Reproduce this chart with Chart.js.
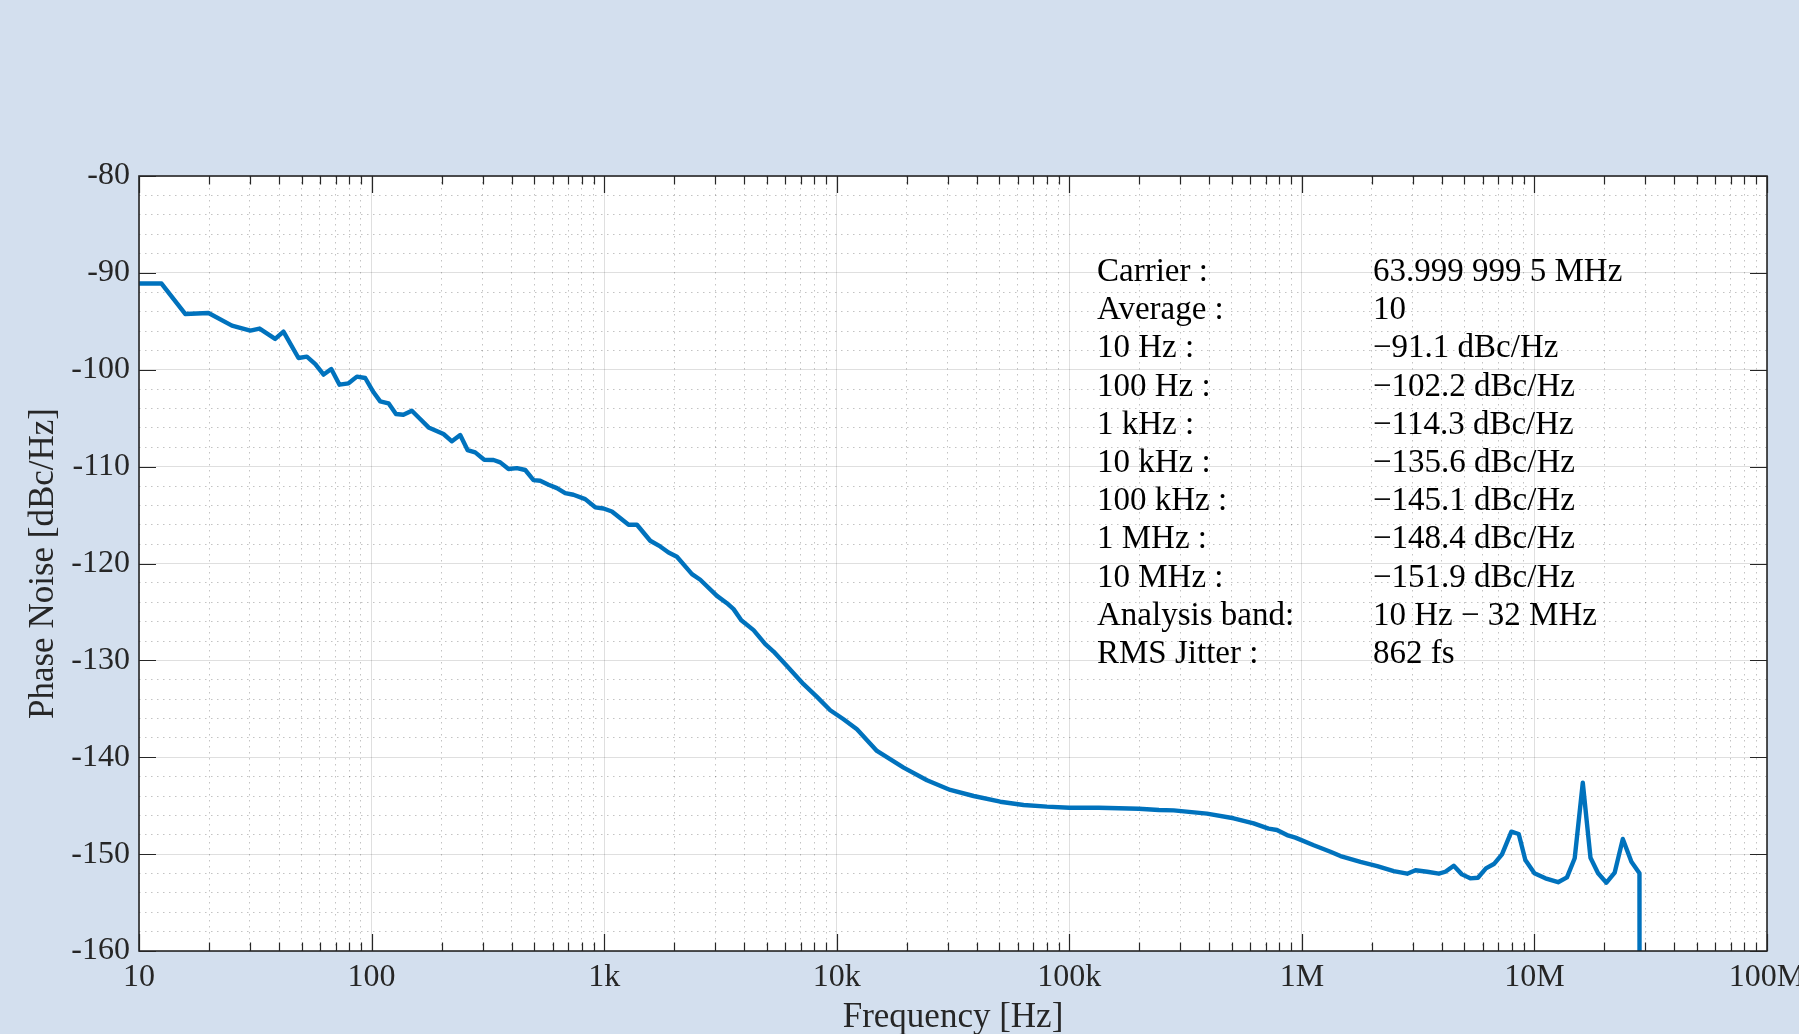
<!DOCTYPE html>
<html>
<head>
<meta charset="utf-8">
<script src="https://cdn.jsdelivr.net/npm/chart.js@4.4.0/dist/chart.umd.min.js"></script>
<style>
  html, body { margin: 0; padding: 0; background: #d3dfee; overflow: hidden; }
  canvas { display: block; }
</style>
</head>
<body>
<canvas id="c" width="1799" height="1034"></canvas>
<script>
// ---- Data ----
const freqHz = [
  10, 12.5, 15.8, 19.9, 25.1, 30.1, 33, 38.5, 41.8, 48.5, 52.7, 57.3, 62.2, 67.1, 72.8, 79.6, 86.5, 93.9,
  102, 108.9, 118.3, 127.3, 137, 149, 161.8, 175.8, 203.8, 221.5, 240.5, 258.6, 279, 305, 334.6, 357.5,
  388, 421.7, 457.9, 497, 531, 576.7, 626.6, 680, 738, 829,
  915.6, 994, 1080, 1274, 1384, 1578, 1742, 1892, 2056, 2386, 2590, 3055, 3373, 3602, 3887, 4390, 4930,
  5352, 6110, 7201, 8225, 9376, 10700, 12220,
  14890, 19390, 24440, 30770, 38770, 50470, 63590, 80170, 100000, 134000, 199000, 243000,
  280900, 390800, 508700, 620200, 719400, 781600, 863000, 937600, 1125000, 1327000, 1466000, 1786000,
  2109000, 2483000, 2838000, 3080000, 3459000, 3882000, 4140000, 4500000,
  4875000, 5297000, 5715000, 6187000, 6721000, 7254000, 7960000, 8560000, 9140000, 10000000,
  11150000, 12640000, 13800000, 14900000, 16140000, 17420000, 18780000, 20400000, 22140000,
  23990000, 26120000, 28290000, 28600000
];
const phaseNoise = [
  -91.1, -91.1, -94.24, -94.14, -95.44, -95.96, -95.75, -96.82, -96.07, -98.79, -98.65, -99.41, -100.5, -99.92, -101.54, -101.4, -100.71, -100.85,
  -102.33, -103.26, -103.47, -104.57, -104.64, -104.23, -105.08, -105.95, -106.63, -107.39, -106.74, -108.29, -108.53, -109.29, -109.32, -109.56,
  -110.25, -110.15, -110.35, -111.39, -111.46, -111.87, -112.22, -112.73, -112.9, -113.35,
  -114.2, -114.32, -114.63, -116.0, -116.0, -117.65, -118.24, -118.86, -119.3, -121.1, -121.68, -123.34, -124.1, -124.71, -125.85, -126.88, -128.33,
  -129.09, -130.57, -132.46, -133.77, -135.15, -136.08, -137.11,
  -139.35, -141.07, -142.38, -143.38, -144.0, -144.59, -144.93, -145.1, -145.21, -145.21, -145.31, -145.44,
  -145.48, -145.82, -146.3, -146.82, -147.37, -147.51, -148.03, -148.3, -149.09, -149.75, -150.2, -150.79,
  -151.23, -151.75, -152.02, -151.67, -151.82, -152.02, -151.82, -151.2,
  -152.09, -152.5, -152.44, -151.47, -150.99, -150.02, -147.68, -147.92, -150.6, -151.98,
  -152.5, -152.9, -152.4, -150.43, -142.63, -150.37, -151.98, -152.95, -151.9,
  -148.44, -150.78, -151.98, -300
];
const xMajorTicks = [10, 100, 1e3, 1e4, 1e5, 1e6, 1e7, 1e8];
const xTickLabels = ['10', '100', '1k', '10k', '100k', '1M', '10M', '100M'];
const xMinorMultipliers = [2, 3, 4, 5, 6, 7, 8, 9];
const yMajorTicks = [-160, -150, -140, -130, -120, -110, -100, -90, -80];
const yMinorStep = 2;
const infoLabels = ['Carrier :', 'Average :', '10 Hz :', '100 Hz :', '1 kHz :', '10 kHz :', '100 kHz :', '1 MHz :', '10 MHz :', 'Analysis band:', 'RMS Jitter :'];
const infoValues = ['63.999 999 5 MHz', '10', '\u221291.1 dBc/Hz', '\u2212102.2 dBc/Hz', '\u2212114.3 dBc/Hz', '\u2212135.6 dBc/Hz', '\u2212145.1 dBc/Hz', '\u2212148.4 dBc/Hz', '\u2212151.9 dBc/Hz', '10 Hz \u2212 32 MHz', '862 fs'];

// ---- derived tick lists ----
const xMinorTicks = [];
for (let i = 0; i < xMajorTicks.length - 1; i++) {
  for (const m of xMinorMultipliers) xMinorTicks.push(xMajorTicks[i] * m);
}
const yMinorTicks = [];
for (let v = -160; v <= -80; v += yMinorStep) if (v % 10 !== 0) yMinorTicks.push(v);

const FONT = '"Liberation Serif", "Times New Roman", serif';
const AXIS_COLOR = '#262626';

const plotBg = {
  id: 'plotBg',
  beforeDraw(chart) {
    const {ctx, chartArea: a} = chart;
    ctx.save();
    ctx.fillStyle = '#ffffff';
    ctx.fillRect(a.left, a.top, a.right - a.left, a.bottom - a.top);
    ctx.restore();
  }
};

const boxAndTicks = {
  id: 'boxAndTicks',
  afterDatasetsDraw(chart) {
    const {ctx, chartArea: a, scales} = chart;
    ctx.save();
    ctx.strokeStyle = AXIS_COLOR;
    ctx.lineWidth = 1.2;
    ctx.beginPath();
    const major = 17, minor = 8.5;
    for (const v of xMajorTicks) {
      const px = Math.round(scales.x.getPixelForValue(v)) + 0.5;
      ctx.moveTo(px, a.bottom); ctx.lineTo(px, a.bottom - major);
      ctx.moveTo(px, a.top); ctx.lineTo(px, a.top + major);
    }
    for (const v of xMinorTicks) {
      const px = Math.round(scales.x.getPixelForValue(v)) + 0.5;
      ctx.moveTo(px, a.bottom); ctx.lineTo(px, a.bottom - minor);
      ctx.moveTo(px, a.top); ctx.lineTo(px, a.top + minor);
    }
    for (const v of yMajorTicks) {
      const py = Math.round(scales.y.getPixelForValue(v)) + 0.5;
      ctx.moveTo(a.left, py); ctx.lineTo(a.left + major, py);
      ctx.moveTo(a.right, py); ctx.lineTo(a.right - major, py);
    }
    ctx.stroke();
    ctx.lineWidth = 1.6;
    ctx.strokeRect(a.left, a.top, a.right - a.left, a.bottom - a.top);
    ctx.restore();
  }
};

const infoText = {
  id: 'infoText',
  afterDraw(chart) {
    const {ctx} = chart;
    ctx.save();
    ctx.font = '33px ' + FONT;
    ctx.fillStyle = '#000000';
    ctx.textBaseline = 'alphabetic';
    ctx.textAlign = 'left';
    for (let i = 0; i < infoLabels.length; i++) {
      const y = 281 + i * 38.2;
      ctx.fillText(infoLabels[i], 1097, y);
      ctx.fillText(infoValues[i], 1373, y);
    }
    ctx.restore();
  }
};

new Chart(document.getElementById('c'), {
  type: 'line',
  data: {
    datasets: [{
      data: freqHz.map((f, i) => ({x: f, y: phaseNoise[i]})),
      borderColor: '#0072BD',
      borderWidth: 4.4,
      borderJoinStyle: 'round',
      pointRadius: 0,
      tension: 0,
      fill: false,
      clip: 0
    }]
  },
  options: {
    responsive: false,
    animation: false,
    devicePixelRatio: 1,
    layout: { padding: { top: 176, right: 32, bottom: 0, left: 0 } },
    plugins: { legend: { display: false }, tooltip: { enabled: false } },
    scales: {
      x: {
        type: 'logarithmic', position: 'bottom', min: 10, max: 1e8,
        afterBuildTicks: s => { s.ticks = xMajorTicks.map(v => ({value: v})); },
        afterFit: s => { s.height = 83; s.paddingLeft = 0; s.paddingRight = 0; },
        ticks: {
          autoSkip: false, maxRotation: 0, minRotation: 0, padding: 7, color: AXIS_COLOR,
          font: { family: FONT, size: 32, lineHeight: 1.2 },
          callback: v => xTickLabels[xMajorTicks.indexOf(v)]
        },
        grid: { color: 'rgba(38,38,38,0.15)', lineWidth: 1, drawTicks: false },
        border: { display: false },
        title: { display: true, text: 'Frequency [Hz]', color: AXIS_COLOR,
                 font: { family: FONT, size: 35, lineHeight: 0.94 }, padding: { top: 0, bottom: 0 } }
      },
      x2: {
        type: 'logarithmic', position: 'bottom', min: 10, max: 1e8,
        afterBuildTicks: s => { s.ticks = xMinorTicks.map(v => ({value: v})); },
        afterFit: s => { s.height = 0; s.paddingLeft = 0; s.paddingRight = 0; },
        ticks: { display: false },
        grid: { color: 'rgba(38,38,38,0.28)', lineWidth: 1, drawTicks: false },
        border: { display: false, dash: [1.5, 4.5] }
      },
      y: {
        type: 'linear', position: 'left', min: -160, max: -80,
        afterBuildTicks: s => { s.ticks = yMajorTicks.map(v => ({value: v})); },
        afterFit: s => { s.width = 139; s.paddingTop = 0; s.paddingBottom = 0; },
        ticks: { padding: 9, color: AXIS_COLOR, font: { family: FONT, size: 32, lineHeight: 1.2 },
                 callback: v => String(v) },
        grid: { color: 'rgba(38,38,38,0.15)', lineWidth: 1, drawTicks: false },
        border: { display: false },
        title: { display: true, text: 'Phase Noise [dBc/Hz]', color: AXIS_COLOR,
                 font: { family: FONT, size: 35, lineHeight: 0.94 }, padding: { top: 27, bottom: 0 } }
      },
      y2: {
        type: 'linear', position: 'left', min: -160, max: -80,
        afterBuildTicks: s => { s.ticks = yMinorTicks.map(v => ({value: v})); },
        afterFit: s => { s.width = 0; s.paddingTop = 0; s.paddingBottom = 0; },
        ticks: { display: false },
        grid: { color: 'rgba(38,38,38,0.28)', lineWidth: 1, drawTicks: false },
        border: { display: false, dash: [1.5, 4.5] }
      }
    }
  },
  plugins: [plotBg, boxAndTicks, infoText]
});
</script>
</body>
</html>
